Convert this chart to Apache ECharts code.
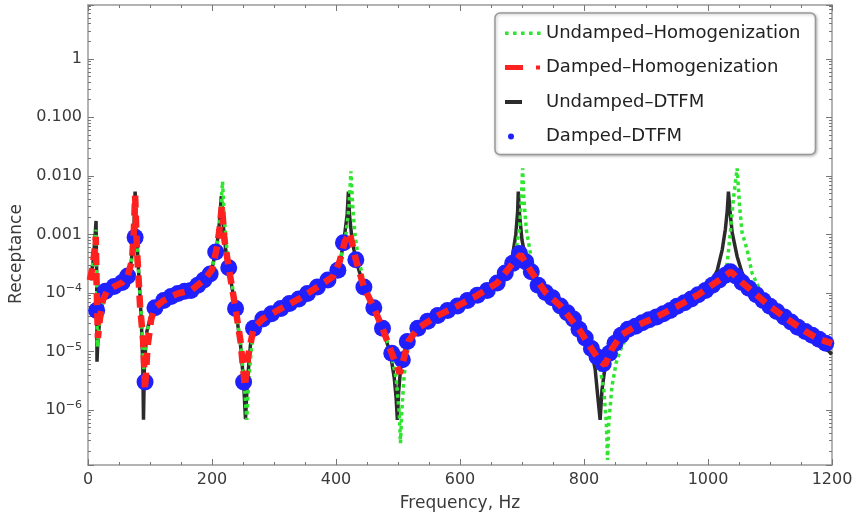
<!DOCTYPE html>
<html>
<head>
<meta charset="utf-8">
<script src="https://cdn.jsdelivr.net/npm/echarts@6/dist/echarts.min.js"></script>
<style>
html, body { margin: 0; padding: 0; background: #fff; }
#chart { width: 856px; height: 522px; }
</style>
</head>
<body>
<div id="chart"></div>
<script>
// series names (legend order)
const seriesNames = ['Undamped–Homogenization', 'Damped–Homogenization', 'Undamped–DTFM', 'Damped–DTFM'];

// [frequency Hz, receptance]
const undampedHom = [
    [3, 1.66e-4], [8, 3.2e-4], [11, 7e-4], [13, 1.2e-3], [14, 1.5e-4], [15, 1.2e-5], [17, 2.2e-5], [20, 4.5e-5],
    [28, 1.05e-4], [42, 1.28e-4], [55, 1.5e-4], [64, 1.95e-4], [70, 3.5e-4], [74, 1.1e-3], [76, 4e-3], [78, 1.1e-3],
    [82, 2e-4], [86, 4e-5], [90, 5e-6], [93, 1.5e-5], [97, 2.6e-5], [102, 4e-5], [108, 5.6e-5], [122, 7.4e-5],
    [145, 9.8e-5], [166, 1.1e-4], [187, 1.66e-4], [200, 2.6e-4], [208, 6.5e-4], [213, 1.8e-3], [217, 8e-3],
    [220, 1.8e-3], [224, 5.5e-4], [230, 2.1e-4], [238, 5.6e-5], [246, 1.4e-5], [252, 3e-6], [256, 6.8e-7],
    [259, 3e-6], [264, 1.3e-5], [271, 2.8e-5], [282, 3.6e-5], [311, 5.4e-5], [340, 7.9e-5], [370, 1.26e-4],
    [395, 2.0e-4], [408, 4e-4], [416, 1e-3], [421, 3e-3], [424, 1.2e-2], [427, 3e-3], [431, 9e-4], [437, 3.5e-4],
    [447, 1.3e-4], [461, 5.8e-5], [475, 2.6e-5], [488, 1e-5], [497, 3.5e-6], [502, 9e-7], [504, 2.7e-7],
    [506, 9e-7], [510, 4e-6], [518, 1.6e-5], [532, 2.5e-5], [564, 4.1e-5], [596, 6e-5], [628, 9.1e-5],
    [660, 1.48e-4], [678, 2.6e-4], [690, 5e-4], [696, 1.3e-3], [699, 4e-3], [701, 1.35e-2], [703, 4e-3],
    [707, 1.2e-3], [714, 4.5e-4], [722, 2e-4], [738, 1.05e-4], [762, 6e-5], [783, 3.6e-5], [802, 1.7e-5],
    [815, 1e-5], [826, 5e-6], [832, 2.2e-6], [836, 6e-7], [838, 1.4e-7], [840, 6e-7], [845, 2.5e-6],
    [852, 6.5e-6], [862, 1.3e-5], [875, 2.2e-5], [905, 3.5e-5], [939, 5e-5], [973, 7.9e-5], [1007, 1.35e-4],
    [1025, 2.1e-4], [1031, 3.2e-4], [1036, 1.07e-3], [1041, 4.1e-3], [1047, 1.35e-2], [1051, 3e-3],
    [1055, 1.07e-3], [1063, 5.5e-4], [1071, 2.2e-4], [1084, 1.1e-4], [1100, 6.5e-5], [1123, 4e-5],
    [1157, 2.2e-5], [1179, 1.62e-5], [1200, 1.3e-5]
];

const dampedHom = [
    [3, 1.66e-4], [8, 3.0e-4], [11, 6e-4], [12.5, 9.1e-4], [14, 1.2e-4], [16, 1.7e-5], [19, 3.5e-5], [24, 7.5e-5],
    [30, 1.05e-4], [42, 1.28e-4], [55, 1.5e-4], [64, 1.95e-4], [71, 3.6e-4], [74, 1.2e-3], [76, 4.6e-3],
    [79, 5.5e-4], [84, 6e-5], [89, 1.5e-5], [92, 2.2e-6], [96, 1.2e-5], [102, 3.6e-5], [108, 5.6e-5],
    [122, 7.4e-5], [145, 9.8e-5], [166, 1.1e-4], [187, 1.66e-4], [200, 2.5e-4], [208, 6e-4], [212, 1.2e-3],
    [216, 3.1e-3], [220, 8.1e-4], [227, 2.7e-4], [238, 5.4e-5], [246, 1.5e-5], [253, 2.5e-6], [258, 8.1e-6],
    [267, 2.5e-5], [282, 3.6e-5], [311, 5.4e-5], [340, 7.9e-5], [370, 1.26e-4], [395, 1.9e-4], [406, 3.5e-4],
    [414, 7.5e-4], [422, 1.07e-3], [432, 3.7e-4], [445, 1.26e-4], [461, 5.6e-5], [475, 2.5e-5], [490, 9.3e-6],
    [503, 4.2e-6], [510, 8e-6], [517, 1.5e-5], [532, 2.5e-5], [564, 4.1e-5], [596, 6e-5], [628, 9.1e-5],
    [660, 1.48e-4], [685, 3.2e-4], [698, 4.5e-4], [715, 2.3e-4], [738, 1.02e-4], [762, 6e-5], [792, 2.4e-5],
    [812, 1.12e-5], [825, 7e-6], [834, 5.9e-6], [845, 1.1e-5], [860, 1.9e-5], [883, 2.7e-5], [917, 3.9e-5],
    [950, 5.9e-5], [984, 9.3e-5], [1018, 1.66e-4], [1037, 2.3e-4], [1055, 1.51e-4], [1078, 9.3e-5],
    [1100, 5.9e-5], [1123, 3.9e-5], [1157, 2.2e-5], [1179, 1.62e-5], [1200, 1.38e-5]
];

const undampedDtfm = [
    [3, 1.66e-4], [8, 3.2e-4], [11, 8e-4], [13, 1.7e-3], [14, 2e-4], [14.5, 6.7e-6], [16, 1.6e-5], [20, 4.5e-5],
    [28, 1.05e-4], [42, 1.28e-4], [55, 1.5e-4], [64, 1.95e-4], [70, 3.5e-4], [74, 1.2e-3], [76, 5.4e-3],
    [78, 1.2e-3], [82, 2e-4], [86, 3.5e-5], [88.5, 5e-6], [89.5, 6.8e-7], [91, 6e-6], [95, 2.2e-5], [101, 4e-5],
    [108, 5.6e-5], [122, 7.4e-5], [145, 9.8e-5], [166, 1.1e-4], [187, 1.66e-4], [200, 2.6e-4], [208, 6.5e-4],
    [212, 1.6e-3], [215, 4.5e-3], [218, 1.5e-3], [222, 5.5e-4], [228, 2.3e-4], [238, 5.4e-5], [246, 1.3e-5],
    [251, 3e-6], [254, 7e-7], [257, 3e-6], [262, 1.3e-5], [270, 2.8e-5], [282, 3.6e-5], [311, 5.4e-5],
    [340, 7.9e-5], [370, 1.26e-4], [395, 2.0e-4], [408, 4e-4], [414, 1.0e-3], [418, 2.2e-3], [420, 5.4e-3],
    [422, 2e-3], [426, 8e-4], [432, 3.7e-4], [445, 1.26e-4], [461, 5.6e-5], [475, 2.5e-5], [488, 9e-6],
    [494, 3.5e-6], [497, 1.6e-6], [499, 6.8e-7], [501, 2e-6], [505, 6.5e-6], [515, 1.5e-5], [532, 2.5e-5],
    [564, 4.1e-5], [596, 6e-5], [628, 9.1e-5], [660, 1.48e-4], [675, 2.4e-4], [685, 4.5e-4], [690, 1.0e-3],
    [693, 2.5e-3], [694, 5.4e-3], [696, 2.2e-3], [700, 8e-4], [706, 3.8e-4], [715, 2.3e-4], [738, 1.02e-4],
    [762, 6e-5], [783, 3.6e-5], [802, 1.65e-5], [812, 1.0e-5], [818, 5e-6], [822, 1.8e-6], [826, 6.8e-7],
    [829, 2.2e-6], [834, 5.5e-6], [841, 1e-5], [850, 1.4e-5], [871, 2.4e-5], [905, 3.5e-5], [939, 5e-5],
    [973, 7.9e-5], [1000, 1.15e-4], [1015, 2.45e-4], [1023, 5.5e-4], [1028, 1.23e-3], [1031, 2.5e-3],
    [1033, 5.4e-3], [1036, 2.2e-3], [1039, 1.07e-3], [1047, 4.2e-4], [1055, 2.2e-4], [1070, 1.15e-4],
    [1089, 7.6e-5], [1111, 4.8e-5], [1145, 2.6e-5], [1179, 1.45e-5], [1200, 9e-6]
];

const dampedDtfm = [
    [14, 5.0e-5], [28, 1.07e-4], [42, 1.29e-4], [55, 1.51e-4], [64, 1.95e-4], [76, 8.9e-4], [92, 3.0e-6],
    [108, 5.6e-5], [122, 7.4e-5], [134, 8.7e-5], [145, 9.8e-5], [156, 1.07e-4], [166, 1.1e-4], [177, 1.35e-4],
    [187, 1.66e-4], [197, 2.1e-4], [206, 5.0e-4], [227, 2.7e-4], [238, 5.4e-5], [251, 3.0e-6], [267, 2.5e-5],
    [282, 3.6e-5], [296, 4.4e-5], [311, 5.4e-5], [325, 6.6e-5], [340, 7.9e-5], [354, 9.8e-5], [370, 1.26e-4],
    [387, 1.66e-4], [403, 2.45e-4], [412, 7.2e-4], [432, 3.7e-4], [445, 1.26e-4], [461, 5.6e-5], [475, 2.5e-5],
    [490, 9.3e-6], [507, 7.2e-6], [515, 1.48e-5], [532, 2.5e-5], [548, 3.3e-5], [564, 4.1e-5], [580, 5.0e-5],
    [596, 6.0e-5], [612, 7.4e-5], [628, 9.1e-5], [644, 1.1e-4], [660, 1.48e-4], [673, 2.2e-4], [685, 3.2e-4],
    [696, 4.7e-4], [706, 3.4e-4], [715, 2.3e-4], [726, 1.35e-4], [738, 1.02e-4], [749, 8.3e-5], [762, 6.0e-5],
    [773, 4.6e-5], [783, 3.6e-5], [792, 2.4e-5], [802, 1.7e-5], [812, 1.12e-5], [821, 8.1e-6], [831, 6.2e-6],
    [841, 9.3e-6], [850, 1.38e-5], [860, 1.9e-5], [871, 2.4e-5], [883, 2.7e-5], [894, 3.1e-5], [905, 3.5e-5],
    [917, 3.9e-5], [928, 4.4e-5], [939, 5.0e-5], [950, 5.9e-5], [962, 6.8e-5], [973, 7.9e-5], [984, 9.3e-5],
    [996, 1.1e-4], [1007, 1.35e-4], [1018, 1.66e-4], [1028, 2.0e-4], [1036, 2.3e-4], [1045, 1.95e-4],
    [1055, 1.51e-4], [1066, 1.2e-4], [1078, 9.3e-5], [1089, 7.4e-5], [1100, 5.9e-5], [1111, 4.8e-5],
    [1123, 3.9e-5], [1134, 3.2e-5], [1145, 2.6e-5], [1157, 2.2e-5], [1168, 1.9e-5], [1179, 1.62e-5],
    [1190, 1.38e-5]
];

// y tick labels
const yTickValues = [1e-6, 1e-5, 1e-4, 0.001, 0.01, 0.1, 1];
const yTickTexts = ['10{s|−6}', '10{s|−5}', '10{s|−4}', '0.001', '0.010', '0.100', '1'];

// minor log ticks 2..9 x 10^k
const yMinorTicks = [];
for (let k = -7; k <= 0; k++) {
    for (let m = 2; m <= 9; m++) yMinorTicks.push(Number((m * Math.pow(10, k)).toPrecision(3)));
}

const FONT = 'DejaVu Sans';
const frameColor = '#9a9a9a';
const tickColor = '#777';

const myChart = echarts.init(document.getElementById('chart'));

const yLabel = {
    show: true,
    fontFamily: FONT,
    fontSize: 16,
    color: '#3a3a3a',
    margin: 6,
    lineHeight: 20,
    formatter: (v) => {
        const i = yTickValues.findIndex(t => Math.abs(Math.log10(v) - Math.log10(t)) < 0.01);
        return i < 0 ? '' : yTickTexts[i];
    },
    rich: {
        s: { fontFamily: FONT, fontSize: 11, color: '#3a3a3a', lineHeight: 12, verticalAlign: 'top' }
    }
};

const logAxis = (position, major, withLabel) => ({
    type: 'log',
    logBase: 10,
    min: 1.15e-7,
    max: 8.3,
    splitNumber: 8,
    position: position,
    axisLine: { show: major, lineStyle: { color: frameColor, width: 1.5 } },
    axisTick: major
        ? { show: true, inside: true, length: 6, lineStyle: { color: tickColor, width: 1 } }
        : { show: true, inside: true, length: 3, customValues: yMinorTicks, lineStyle: { color: tickColor, width: 1 } },
    axisLabel: withLabel ? yLabel : { show: false },
    splitLine: { show: false }
});

const freqAxis = (position, withLabel) => ({
    type: 'value',
    min: 0,
    max: 1200,
    interval: 200,
    position: position,
    axisLine: { show: true, onZero: false, lineStyle: { color: frameColor, width: 1.5 } },
    axisTick: { show: true, inside: true, length: 6, lineStyle: { color: tickColor, width: 1 } },
    minorTick: { show: true, splitNumber: 4, length: 3, lineStyle: { color: tickColor, width: 1 } },
    axisLabel: withLabel
        ? { show: true, fontFamily: FONT, fontSize: 16, color: '#3a3a3a', margin: 7, formatter: (v) => String(v) }
        : { show: false },
    splitLine: { show: false },
    minorSplitLine: { show: false }
});

const option = {
    animation: false,
    backgroundColor: '#fff',
    grid: { left: 88, right: 24, top: 5, bottom: 57 },
    legend: {
        orient: 'vertical',
        left: 495,
        top: 13,
        padding: [10, 15, 8, 10],
        itemGap: 14.5,
        itemWidth: 36,
        itemHeight: 6,
        backgroundColor: '#fff',
        borderColor: '#999',
        borderWidth: 1.5,
        borderRadius: 5,
        shadowColor: 'rgba(0,0,0,0.25)',
        shadowBlur: 3,
        shadowOffsetX: 1,
        shadowOffsetY: 1,
        itemStyle: { borderWidth: 0 },
        textStyle: { fontFamily: FONT, fontSize: 18, color: '#222', lineHeight: 20 },
        data: [
            { name: seriesNames[0], icon: 'path://M0,0M36,6M0,1.5h3.6v3.5h-3.6zM8,1.5h3.6v3.5h-3.6zM16,1.5h3.6v3.5h-3.6zM24,1.5h3.6v3.5h-3.6zM32,1.5h3.6v3.5h-3.6z' },
            { name: seriesNames[1], icon: 'path://M0,0M36,6M0,0.5h18v5h-18zM31,1h4v4h-4z' },
            { name: seriesNames[2], icon: 'path://M0,0M36,6M0,1h17v4h-17z' },
            { name: seriesNames[3], icon: 'path://M0,0M36,6M3,3a3,3 0 1,0 6,0a3,3 0 1,0 -6,0z' }
        ]
    },
    xAxis: [
        Object.assign(freqAxis('bottom', true), {
            name: 'Frequency, Hz',
            nameLocation: 'middle',
            nameGap: 30,
            nameTextStyle: { fontFamily: FONT, fontSize: 17, color: '#3a3a3a' }
        }),
        freqAxis('top', false)
    ],
    yAxis: [
        Object.assign(logAxis('left', true, true), {
            name: 'Receptance',
            nameLocation: 'middle',
            nameGap: 52,
            nameTextStyle: { fontFamily: FONT, fontSize: 17, color: '#3a3a3a', padding: [0, 38, 0, 0] }
        }),
        logAxis('left', false, false),
        logAxis('right', true, false),
        logAxis('right', false, false)
    ],
    series: [
        {
            name: seriesNames[0],
            type: 'line',
            z: 3,
            symbol: 'none',
            color: '#2fe52f',
            itemStyle: { color: '#2fe52f' },
            lineStyle: { color: '#2fe52f', width: 3.5, type: [3.5, 3.5], cap: 'butt' },
            data: undampedHom
        },
        {
            name: seriesNames[1],
            type: 'line',
            z: 5,
            symbol: 'none',
            color: '#ff2020',
            itemStyle: { color: '#ff2020' },
            lineStyle: { color: '#ff2020', width: 6.5, type: [12, 8], cap: 'butt' },
            data: dampedHom
        },
        {
            name: seriesNames[2],
            type: 'line',
            z: 2,
            symbol: 'none',
            color: '#2b2b2b',
            itemStyle: { color: '#2b2b2b' },
            lineStyle: { color: '#2b2b2b', width: 3.5 },
            data: undampedDtfm
        },
        {
            name: seriesNames[3],
            type: 'scatter',
            z: 4,
            symbol: 'circle',
            symbolSize: 17,
            color: '#2020ff',
            itemStyle: { color: '#2020ff', opacity: 1 },
            data: dampedDtfm
        }
    ]
};

option && myChart.setOption(option);
</script>
</body>
</html>
